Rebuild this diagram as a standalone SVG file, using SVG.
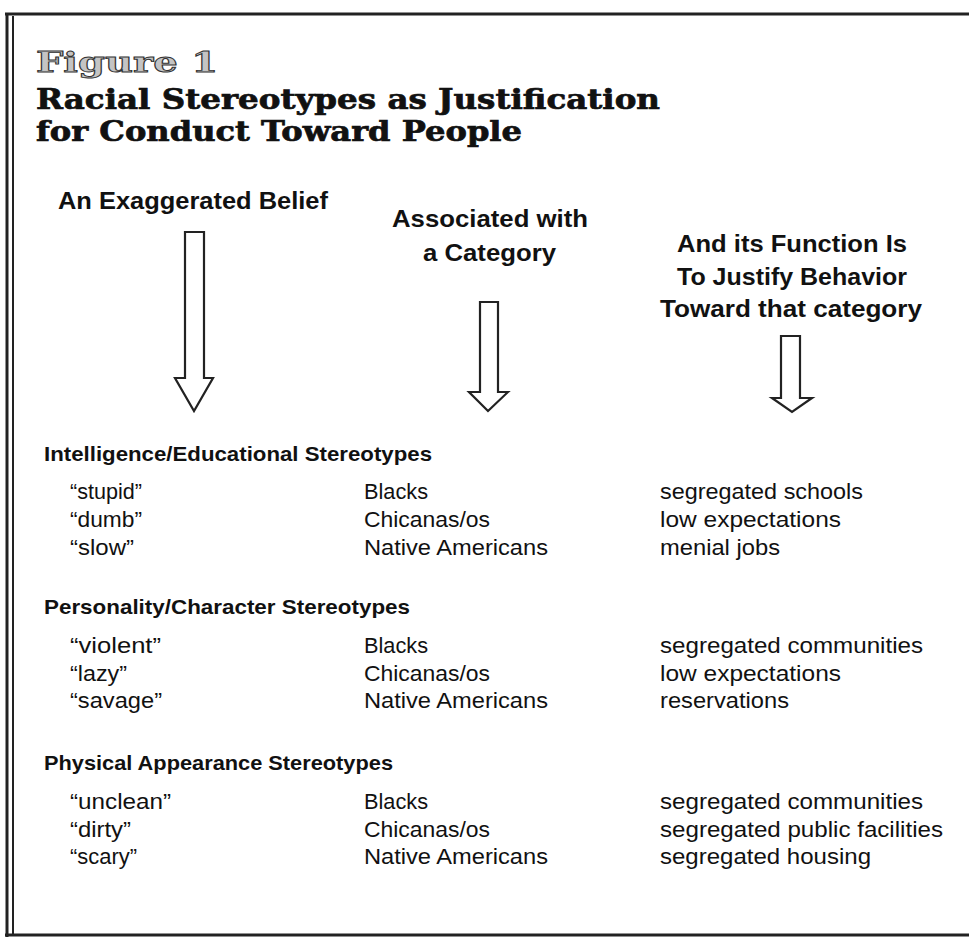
<svg xmlns="http://www.w3.org/2000/svg" width="969" height="943" viewBox="0 0 969 943">
<style>
.fig{font-family:"DejaVu Serif","Liberation Serif",serif;font-weight:bold;font-size:27px;fill:#c4c4c4;stroke:#333;stroke-width:0.9}
.title{font-family:"DejaVu Serif","Liberation Serif",serif;font-weight:bold;font-size:27px;fill:#111;stroke:#111;stroke-width:0.7}
.head{font-family:"Liberation Sans","Noto Sans",sans-serif;font-weight:bold;font-size:24px;fill:#111}
.sec{font-family:"Liberation Sans","Noto Sans",sans-serif;font-weight:bold;font-size:21px;fill:#111}
.row{font-family:"Liberation Sans","Noto Sans",sans-serif;font-size:22px;fill:#111}
.arrow{fill:#fff;stroke:#222;stroke-width:2.2;stroke-linejoin:miter}
.border{stroke:#222;fill:none}
</style>
<rect width="969" height="943" fill="#fff"/>
<g id="frame">
<line class="border" x1="5" y1="14" x2="969" y2="14" stroke-width="3"/>
<line class="border" x1="7" y1="13" x2="7" y2="937" stroke-width="3"/>
<line class="border" x1="13" y1="16" x2="13" y2="934" stroke-width="2"/>
<line class="border" x1="5" y1="935" x2="969" y2="935" stroke-width="3"/>
</g>
<g id="title">
<text class="fig" x="36" y="72" textLength="182" lengthAdjust="spacingAndGlyphs">Figure 1</text>
<text class="title" x="36" y="109" textLength="624" lengthAdjust="spacingAndGlyphs">Racial Stereotypes as Justification</text>
<text class="title" x="36" y="141" textLength="486" lengthAdjust="spacingAndGlyphs">for Conduct Toward People</text>
</g>
<g id="col1-header">
<text class="head" x="58" y="209" textLength="270" lengthAdjust="spacingAndGlyphs">An Exaggerated Belief</text>
</g>
<g id="col2-header">
<text class="head" x="392" y="227" textLength="196" lengthAdjust="spacingAndGlyphs">Associated with</text>
<text class="head" x="423" y="261" textLength="133" lengthAdjust="spacingAndGlyphs">a Category</text>
</g>
<g id="col3-header">
<text class="head" x="677" y="252" textLength="230" lengthAdjust="spacingAndGlyphs">And its Function Is</text>
<text class="head" x="677" y="285" textLength="230" lengthAdjust="spacingAndGlyphs">To Justify Behavior</text>
<text class="head" x="660" y="317" textLength="262" lengthAdjust="spacingAndGlyphs">Toward that category</text>
</g>
<g id="connectors">
<polygon class="arrow" points="185,232 204,232 204,378 213,378 194,411 175,378 185,378"/>
<polygon class="arrow" points="480,302 498,302 498,392 508,392 488,411 469,392 480,392"/>
<polygon class="arrow" points="781,336 800,336 800,398 812,398 792,412 772,398 781,398"/>
</g>
<g id="section-intelligence">
<text class="sec" x="44" y="461" textLength="388" lengthAdjust="spacingAndGlyphs">Intelligence/Educational Stereotypes</text>
<text class="row" x="70" y="499" textLength="72" lengthAdjust="spacingAndGlyphs">“stupid”</text>
<text class="row" x="364" y="499" textLength="64" lengthAdjust="spacingAndGlyphs">Blacks</text>
<text class="row" x="660" y="499" textLength="203" lengthAdjust="spacingAndGlyphs">segregated schools</text>
<text class="row" x="70" y="527" textLength="72" lengthAdjust="spacingAndGlyphs">“dumb”</text>
<text class="row" x="364" y="527" textLength="126" lengthAdjust="spacingAndGlyphs">Chicanas/os</text>
<text class="row" x="660" y="527" textLength="181" lengthAdjust="spacingAndGlyphs">low expectations</text>
<text class="row" x="70" y="555" textLength="64" lengthAdjust="spacingAndGlyphs">“slow”</text>
<text class="row" x="364" y="555" textLength="184" lengthAdjust="spacingAndGlyphs">Native Americans</text>
<text class="row" x="660" y="555" textLength="120" lengthAdjust="spacingAndGlyphs">menial jobs</text>
</g>
<g id="section-personality">
<text class="sec" x="44" y="614" textLength="366" lengthAdjust="spacingAndGlyphs">Personality/Character Stereotypes</text>
<text class="row" x="70" y="653" textLength="91" lengthAdjust="spacingAndGlyphs">“violent”</text>
<text class="row" x="364" y="653" textLength="64" lengthAdjust="spacingAndGlyphs">Blacks</text>
<text class="row" x="660" y="653" textLength="263" lengthAdjust="spacingAndGlyphs">segregated communities</text>
<text class="row" x="70" y="681" textLength="57" lengthAdjust="spacingAndGlyphs">“lazy”</text>
<text class="row" x="364" y="681" textLength="126" lengthAdjust="spacingAndGlyphs">Chicanas/os</text>
<text class="row" x="660" y="681" textLength="181" lengthAdjust="spacingAndGlyphs">low expectations</text>
<text class="row" x="70" y="708" textLength="92" lengthAdjust="spacingAndGlyphs">“savage”</text>
<text class="row" x="364" y="708" textLength="184" lengthAdjust="spacingAndGlyphs">Native Americans</text>
<text class="row" x="660" y="708" textLength="129" lengthAdjust="spacingAndGlyphs">reservations</text>
</g>
<g id="section-physical">
<text class="sec" x="44" y="770" textLength="349" lengthAdjust="spacingAndGlyphs">Physical Appearance Stereotypes</text>
<text class="row" x="70" y="809" textLength="101" lengthAdjust="spacingAndGlyphs">“unclean”</text>
<text class="row" x="364" y="809" textLength="64" lengthAdjust="spacingAndGlyphs">Blacks</text>
<text class="row" x="660" y="809" textLength="263" lengthAdjust="spacingAndGlyphs">segregated communities</text>
<text class="row" x="70" y="837" textLength="61" lengthAdjust="spacingAndGlyphs">“dirty”</text>
<text class="row" x="364" y="837" textLength="126" lengthAdjust="spacingAndGlyphs">Chicanas/os</text>
<text class="row" x="660" y="837" textLength="283" lengthAdjust="spacingAndGlyphs">segregated public facilities</text>
<text class="row" x="70" y="864" textLength="67" lengthAdjust="spacingAndGlyphs">“scary”</text>
<text class="row" x="364" y="864" textLength="184" lengthAdjust="spacingAndGlyphs">Native Americans</text>
<text class="row" x="660" y="864" textLength="211" lengthAdjust="spacingAndGlyphs">segregated housing</text>
</g>
</svg>
